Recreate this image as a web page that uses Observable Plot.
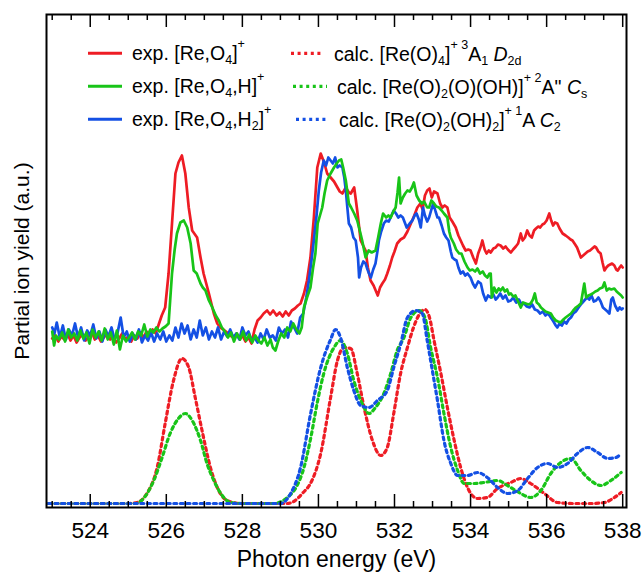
<!DOCTYPE html>
<html><head><meta charset="utf-8">
<script src="https://cdn.jsdelivr.net/npm/d3@7"></script>
<script src="https://cdn.jsdelivr.net/npm/@observablehq/plot@0.6"></script>
<style>body{margin:0;background:#fff}#chart{width:642px;height:573px}</style>
</head><body><div id="chart"></div>
<script>
// ---- tick values ----
const majorTicks = [524, 526, 528, 530, 532, 534, 536, 538];
const minorTicks = [523, 523.5, 524.5, 525, 525.5, 526.5, 527, 527.5, 528.5, 529, 529.5, 530.5, 531, 531.5, 532.5, 533, 533.5, 534.5, 535, 535.5, 536.5, 537, 537.5];
const xLabel = "Photon energy (eV)";
const yLabel = "Partial ion yield (a.u.)";

// ---- experimental spectra [photon energy eV, yield a.u.] ----
const expReO4 = [[523.0,169],[523.08,172],[523.16,166],[523.24,171],[523.32,168],[523.4,174],[523.48,167],[523.56,172],[523.64,165],[523.72,170],[523.8,173],[523.88,167],[523.96,171],[524.04,176],[524.12,168],[524.2,172],[524.28,166],[524.36,170],[524.44,174],[524.52,168],[524.6,171],[524.68,165],[524.76,169],[524.84,174],[524.92,168],[525.0,171],[525.08,166],[525.16,172],[525.24,169],[525.32,175],[525.4,170],[525.48,176],[525.56,172],[525.64,178],[525.72,174],[525.8,183],[525.88,192],[525.97,200],[526.06,234],[526.15,284],[526.24,334],[526.32,345],[526.41,352],[526.5,334],[526.59,300],[526.68,277],[526.81,270],[526.9,250],[526.98,234],[527.12,214],[527.25,194],[527.34,184],[527.42,180],[527.5,178],[527.6,175],[527.68,172],[527.77,170],[527.85,174],[527.93,168],[528.0,172],[528.08,166],[528.16,170],[528.24,164],[528.32,178],[528.4,187],[528.48,190],[528.56,194],[528.65,197],[528.73,193],[528.81,197],[528.9,192],[528.98,195],[529.06,191],[529.14,196],[529.22,192],[529.3,197],[529.38,199],[529.46,202],[529.53,204],[529.62,214],[529.7,227],[529.79,250],[529.88,290],[529.97,340],[530.06,354],[530.15,345],[530.23,334],[530.32,330],[530.41,326],[530.5,320],[530.56,316],[530.63,314],[530.72,320],[530.8,315],[530.85,314],[530.94,320],[531.02,297],[531.11,267],[531.24,257],[531.3,240],[531.37,227],[531.45,222],[531.56,212],[531.62,220],[531.68,224],[531.75,228],[531.81,234],[531.88,242],[531.94,250],[532.0,256],[532.07,264],[532.16,268],[532.25,270],[532.34,276],[532.43,284],[532.52,292],[532.6,300],[532.68,304],[532.74,298],[532.8,312],[532.86,317],[532.92,319],[532.98,310],[533.04,316],[533.13,314],[533.2,304],[533.26,300],[533.32,302],[533.39,300],[533.45,290],[533.52,286],[533.61,280],[533.68,272],[533.74,267],[533.8,262],[533.87,257],[533.94,258],[534.0,257],[534.07,250],[534.14,244],[534.2,254],[534.26,260],[534.31,267],[534.37,258],[534.42,254],[534.48,257],[534.53,255],[534.6,259],[534.66,260],[534.72,263],[534.79,262],[534.86,259],[534.92,261],[534.98,258],[535.06,255],[535.12,258],[535.19,261],[535.25,264],[535.32,274],[535.37,267],[535.43,270],[535.49,277],[535.55,272],[535.61,270],[535.67,277],[535.72,279],[535.78,281],[535.83,280],[535.89,283],[535.94,284],[536.0,287],[536.07,294],[536.12,287],[536.17,282],[536.22,285],[536.28,284],[536.34,279],[536.42,274],[536.5,272],[536.57,270],[536.63,268],[536.68,267],[536.75,263],[536.8,260],[536.86,254],[536.9,250],[536.96,252],[537.02,254],[537.08,256],[537.14,257],[537.2,259],[537.26,261],[537.3,260],[537.36,256],[537.42,254],[537.47,245],[537.52,237],[537.57,240],[537.62,242],[537.67,243],[537.72,244],[537.78,242],[537.83,238],[537.87,237],[537.92,240],[537.96,242],[538.0,240]];

const expReO4H = [[523.0,176],[523.05,162],[523.1,172],[523.18,168],[523.26,175],[523.34,166],[523.42,178],[523.5,170],[523.58,174],[523.66,167],[523.74,177],[523.82,169],[523.9,175],[523.98,164],[524.06,178],[524.14,170],[524.22,176],[524.3,167],[524.38,179],[524.46,168],[524.54,175],[524.62,163],[524.7,177],[524.78,158],[524.86,172],[524.94,166],[525.02,170],[525.1,175],[525.18,168],[525.26,176],[525.34,172],[525.42,183],[525.5,171],[525.58,178],[525.66,175],[525.74,180],[525.82,176],[525.9,179],[525.98,181],[526.06,184],[526.15,234],[526.22,258],[526.28,274],[526.37,285],[526.46,287],[526.55,280],[526.64,264],[526.72,237],[526.8,234],[526.9,224],[526.96,220],[527.03,217],[527.12,207],[527.21,200],[527.3,192],[527.38,187],[527.46,180],[527.54,176],[527.62,170],[527.7,175],[527.78,166],[527.86,174],[527.94,168],[528.02,176],[528.1,167],[528.18,173],[528.26,165],[528.34,172],[528.42,167],[528.5,164],[528.58,170],[528.66,162],[528.74,168],[528.8,160],[528.87,157],[528.94,166],[529.02,174],[529.1,170],[529.18,180],[529.26,176],[529.34,184],[529.42,178],[529.5,174],[529.56,180],[529.62,200],[529.7,210],[529.79,220],[529.86,240],[529.92,254],[529.98,284],[530.04,292],[530.1,300],[530.16,314],[530.23,327],[530.32,334],[530.41,340],[530.48,344],[530.54,347],[530.6,348],[530.65,340],[530.72,327],[530.8,304],[530.86,300],[530.94,294],[531.02,287],[531.08,278],[531.15,267],[531.24,250],[531.32,257],[531.4,255],[531.5,257],[531.57,270],[531.64,284],[531.7,294],[531.78,290],[531.84,292],[531.9,290],[531.97,296],[532.03,300],[532.08,315],[532.12,330],[532.16,304],[532.22,310],[532.28,314],[532.34,317],[532.4,316],[532.46,320],[532.51,325],[532.58,312],[532.65,307],[532.72,304],[532.78,306],[532.86,300],[532.91,300],[532.97,307],[533.04,304],[533.1,301],[533.17,300],[533.24,297],[533.3,294],[533.39,290],[533.44,276],[533.48,270],[533.56,264],[533.62,258],[533.7,254],[533.76,254],[533.84,246],[533.92,240],[533.98,237],[534.05,238],[534.12,236],[534.18,239],[534.25,234],[534.32,236],[534.38,232],[534.44,230],[534.5,234],[534.53,234],[534.56,210],[534.62,220],[534.68,215],[534.74,219],[534.79,217],[534.85,220],[534.9,216],[534.96,218],[535.01,213],[535.06,214],[535.12,211],[535.18,212],[535.25,206],[535.32,200],[535.38,205],[535.45,204],[535.52,203],[535.58,204],[535.64,208],[535.69,214],[535.74,205],[535.8,203],[535.85,200],[535.91,198],[535.97,196],[536.04,195],[536.11,194],[536.17,190],[536.24,187],[536.3,186],[536.37,185],[536.44,188],[536.5,190],[536.57,192],[536.64,194],[536.7,197],[536.77,200],[536.84,202],[536.9,204],[536.95,215],[536.99,224],[537.04,210],[537.1,212],[537.16,213],[537.21,214],[537.28,216],[537.34,217],[537.4,219],[537.47,220],[537.52,225],[537.58,217],[537.64,219],[537.7,218],[537.78,219],[537.84,216],[537.9,214],[537.96,212],[538.0,210]];

const expReO4H2 = [[523.0,180],[523.06,174],[523.12,185],[523.2,170],[523.28,182],[523.36,168],[523.44,178],[523.52,172],[523.6,184],[523.68,170],[523.76,180],[523.84,167],[523.92,177],[524.0,172],[524.08,183],[524.16,169],[524.24,176],[524.32,166],[524.4,178],[524.48,171],[524.56,180],[524.64,168],[524.72,175],[524.8,190],[524.88,170],[524.96,176],[525.04,166],[525.12,174],[525.2,168],[525.28,178],[525.36,165],[525.44,172],[525.52,167],[525.6,175],[525.68,166],[525.76,174],[525.84,168],[525.92,176],[526.0,166],[526.08,172],[526.16,167],[526.24,180],[526.32,170],[526.4,184],[526.48,174],[526.56,182],[526.64,168],[526.72,178],[526.8,170],[526.88,187],[526.96,172],[527.04,180],[527.12,168],[527.2,176],[527.28,170],[527.36,180],[527.44,168],[527.52,176],[527.6,171],[527.68,178],[527.76,170],[527.84,174],[527.92,168],[528.0,180],[528.08,172],[528.16,176],[528.24,167],[528.32,170],[528.4,165],[528.48,174],[528.56,168],[528.64,178],[528.72,170],[528.8,172],[528.88,167],[528.96,180],[529.04,174],[529.12,178],[529.2,170],[529.28,186],[529.36,180],[529.44,174],[529.52,190],[529.6,194],[529.68,210],[529.75,227],[529.82,248],[529.88,267],[529.95,292],[530.01,317],[530.07,335],[530.14,347],[530.2,342],[530.26,350],[530.32,347],[530.38,344],[530.44,350],[530.5,340],[530.56,342],[530.63,340],[530.68,330],[530.72,317],[530.76,300],[530.8,284],[530.86,280],[530.92,270],[530.98,267],[531.04,250],[531.07,230],[531.12,240],[531.18,246],[531.24,244],[531.29,238],[531.33,234],[531.38,230],[531.44,238],[531.5,244],[531.55,256],[531.59,267],[531.65,276],[531.72,284],[531.78,287],[531.85,286],[531.92,292],[531.98,297],[532.04,294],[532.1,290],[532.16,292],[532.22,290],[532.28,284],[532.32,280],[532.4,284],[532.47,287],[532.53,292],[532.58,294],[532.64,288],[532.69,280],[532.75,300],[532.8,292],[532.86,286],[532.91,290],[532.97,298],[533.02,304],[533.08,296],[533.13,290],[533.17,290],[533.24,282],[533.3,274],[533.36,270],[533.42,267],[533.48,256],[533.52,250],[533.58,248],[533.63,247],[533.68,240],[533.74,234],[533.8,236],[533.86,232],[533.92,234],[534.0,230],[534.06,224],[534.12,220],[534.2,226],[534.27,224],[534.33,214],[534.4,207],[534.46,212],[534.53,210],[534.6,213],[534.66,208],[534.71,210],[534.78,214],[534.85,209],[534.92,212],[534.99,206],[535.06,207],[535.12,210],[535.2,205],[535.27,208],[535.34,203],[535.41,204],[535.48,201],[535.55,200],[535.62,203],[535.69,198],[535.76,197],[535.83,194],[535.9,196],[535.97,192],[536.04,194],[536.11,190],[536.18,186],[536.24,182],[536.28,180],[536.34,184],[536.4,182],[536.46,186],[536.52,184],[536.58,188],[536.64,190],[536.7,194],[536.77,196],[536.84,200],[536.92,204],[536.99,207],[537.06,210],[537.12,208],[537.18,212],[537.24,206],[537.3,207],[537.36,210],[537.42,206],[537.48,200],[537.54,198],[537.6,196],[537.65,194],[537.7,208],[537.74,210],[537.8,202],[537.87,197],[537.92,200],[537.97,198],[538.0,199]];

// ---- calculated spectra ----
const calcReO4 = [[522.9,4],[525.0,4],[525.23,5],[525.49,14],[525.76,40],[525.97,84],[526.19,127],[526.41,149],[526.59,140],[526.76,110],[526.94,77],[527.16,40],[527.34,20],[527.6,7],[527.95,4],[529.18,4],[529.35,6],[529.6,15],[529.79,24],[530.06,54],[530.32,110],[530.5,147],[530.67,160],[530.85,159],[531.02,134],[531.2,100],[531.42,67],[531.64,52],[531.81,60],[531.98,94],[532.16,134],[532.34,160],[532.5,180],[532.65,193],[532.8,198],[532.92,190],[533.04,167],[533.22,134],[533.39,100],[533.57,67],[533.74,40],[533.92,20],[534.18,9],[534.44,10],[534.71,19],[535.06,25],[535.32,29],[535.58,24],[535.94,14],[536.28,5],[536.72,4],[537.16,4],[537.52,5],[537.78,10],[537.96,15]];
const calcReO3OH = [[522.9,4],[525.2,4],[525.4,9],[525.67,27],[525.89,50],[526.1,74],[526.32,89],[526.5,94],[526.68,87],[526.9,67],[527.07,44],[527.25,27],[527.47,12],[527.69,5],[528.0,4],[528.83,4],[529.18,10],[529.44,22],[529.62,40],[529.8,70],[529.97,105],[530.14,134],[530.41,160],[530.58,167],[530.76,154],[530.93,127],[531.15,104],[531.33,94],[531.5,100],[531.72,114],[531.9,134],[532.07,157],[532.25,170],[532.43,190],[532.65,197],[532.8,190],[532.95,160],[533.13,130],[533.3,94],[533.48,60],[533.66,37],[533.83,24],[534.09,24],[534.35,25],[534.71,27],[534.97,22],[535.32,14],[535.58,10],[535.85,17],[536.11,34],[536.37,45],[536.64,49],[536.9,37],[537.16,27],[537.43,22],[537.69,27],[537.96,35]];
const calcReO2OH2 = [[522.9,4],[529.0,4],[529.27,14],[529.53,40],[529.79,93],[530.06,140],[530.32,168],[530.45,178],[530.58,170],[530.76,140],[530.93,117],[531.11,102],[531.33,100],[531.55,107],[531.81,117],[531.98,140],[532.16,163],[532.34,190],[532.56,197],[532.73,194],[532.86,167],[532.95,147],[533.13,107],[533.3,67],[533.48,44],[533.66,32],[533.92,32],[534.18,35],[534.44,30],[534.71,20],[534.97,14],[535.24,17],[535.5,29],[535.76,40],[536.03,44],[536.28,40],[536.55,44],[536.81,54],[537.08,60],[537.34,55],[537.61,49],[537.82,50],[537.96,54]];

// ---- legend labels (segments: text, style) ----
const legendExp = [
  [["exp. [Re,O"],["4","sub"],["]"],["+","sup"]],
  [["exp. [Re,O"],["4","sub"],[",H]"],["+","sup"]],
  [["exp. [Re,O"],["4","sub"],[",H"],["2","sub"],["]"],["+","sup"]]
];
const legendCalc = [
  [["calc. [Re(O)"],["4","sub"],["]"],["+ 3","sup"],["A"],["1","sub"],[" "],["D","i"],["2d","sub"]],
  [["calc. [Re(O)"],["2","sub"],["(O)(OH)]"],["+ 2","sup"],["A\" "],["C","i"],["s","sub"]],
  [["calc. [Re(O)"],["2","sub"],["(OH)"],["2","sub"],["]"],["+ 1","sup"],["A "],["C","i"],["2","sub"]]
];

const RED = "#ee1c24", GREEN = "#18c418", BLUE = "#1450e4";
const W = 642, H = 573, mL = 46, mR = 16, mT = 14, mB = 66;
const plotH = H - mT - mB;
const FONT = "'Liberation Sans', Arial, sans-serif";

const xy = {x: d => d[0], y: d => d[1]};
const calcStyle = {strokeWidth: 3.2, strokeDasharray: "3,3.6", curve: "monotone-x"};
const expStyle = {strokeWidth: 2.7, strokeLinejoin: "round"};

const plot = Plot.plot({
  width: W, height: H,
  marginLeft: mL, marginRight: mR, marginTop: mT, marginBottom: mB,
  x: {domain: [522.85, 538.1], axis: null},
  y: {domain: [0, plotH], axis: null},
  style: {fontFamily: FONT, background: "white", color: "black"},
  marks: [
    Plot.line(calcReO4, {...xy, stroke: RED, ...calcStyle}),
    Plot.line(calcReO3OH, {...xy, stroke: GREEN, ...calcStyle}),
    Plot.line(calcReO2OH2, {...xy, stroke: BLUE, ...calcStyle}),
    Plot.line(expReO4, {...xy, stroke: RED, ...expStyle}),
    Plot.line(expReO4H2, {...xy, stroke: BLUE, ...expStyle}),
    Plot.line(expReO4H, {...xy, stroke: GREEN, ...expStyle}),
    Plot.ruleX(majorTicks, {x: d => d, insetTop: plotH - 13, stroke: "black", strokeWidth: 1.5}),
    Plot.ruleX(majorTicks, {x: d => d, insetBottom: plotH - 13, stroke: "black", strokeWidth: 1.5}),
    Plot.ruleX(minorTicks, {x: d => d, insetTop: plotH - 6, stroke: "black", strokeWidth: 1.5}),
    Plot.ruleX(minorTicks, {x: d => d, insetBottom: plotH - 6, stroke: "black", strokeWidth: 1.5}),
    Plot.frame({stroke: "black", strokeWidth: 2}),
    Plot.text(majorTicks, {x: d => d, text: d => String(d), frameAnchor: "bottom", lineAnchor: "top", dy: 14, fontSize: 22.6, fill: "black"}),
    Plot.text([xLabel], {text: d => d, frameAnchor: "bottom", textAnchor: "middle", lineAnchor: "top", dy: 43, fontSize: 23, fill: "black"}),
    Plot.text([yLabel], {text: d => d, frameAnchor: "left", textAnchor: "middle", rotate: -90, lineAnchor: "top", dx: -32.9, fontSize: 21, fill: "black"})
  ]
});

// ---- legend ----
const svg = d3.select(plot);
const lg = svg.append("g").attr("font-family", FONT).attr("fill", "black").attr("text-anchor", "start");
const base = 19.5, small = 12.5;
function richText(g, x, y, segs) {
  const t = g.append("text").attr("x", x).attr("y", y).attr("font-size", base)
    .attr("text-anchor", "start").style("white-space", "pre");
  let shift = 0;
  for (const [s, k] of segs) {
    const target = k === "sub" ? 4 : k === "sup" ? -12 : 0;
    const ts = t.append("tspan").text(s).attr("dy", target - shift);
    shift = target;
    if (k === "sub" || k === "sup") ts.attr("font-size", small);
    if (k === "i") ts.attr("font-style", "italic");
  }
}
const expColors = [RED, GREEN, BLUE];
const rowsY = [60, 93, 126];
const calcSampleX = [[291, 324], [293, 327], [296, 329]];
const calcTextX = [334, 337, 339];
legendExp.forEach((segs, i) => {
  lg.append("line").attr("x1", 88).attr("x2", 122).attr("y1", rowsY[i] - 6.7).attr("y2", rowsY[i] - 6.7)
    .attr("stroke", expColors[i]).attr("stroke-width", 3);
  richText(lg, 132, rowsY[i], segs);
});
legendCalc.forEach((segs, i) => {
  lg.append("line").attr("x1", calcSampleX[i][0]).attr("x2", calcSampleX[i][1]).attr("y1", rowsY[i] - 6.7).attr("y2", rowsY[i] - 6.7)
    .attr("stroke", expColors[i]).attr("stroke-width", 3.2).attr("stroke-dasharray", "3,3.6");
  richText(lg, calcTextX[i], rowsY[i] + 0.5, segs);
});

document.getElementById("chart").appendChild(plot);
</script>
</body></html>
